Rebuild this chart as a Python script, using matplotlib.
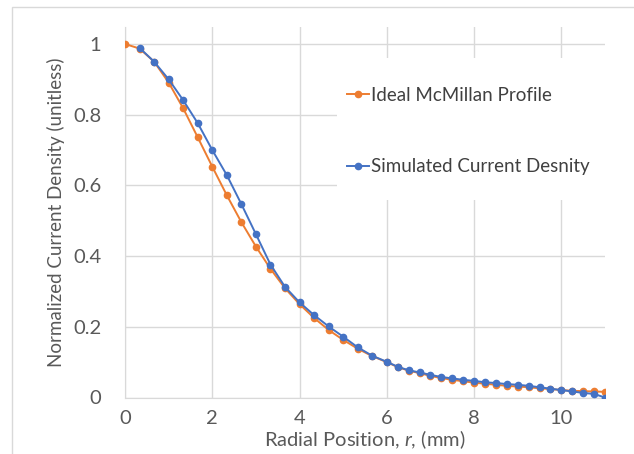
import matplotlib
matplotlib.use("Agg")
import matplotlib.pyplot as plt
from matplotlib.patches import Rectangle

# radial positions (mm)
r_ideal = [0, 1/3, 2/3, 1, 4/3, 5/3, 2, 7/3, 8/3, 3, 10/3, 11/3, 4, 13/3, 14/3, 5, 16/3, 17/3, 6,
           6.25, 6.5, 6.75, 7, 7.25, 7.5, 7.75, 8, 8.25, 8.5, 8.75, 9, 9.25, 9.5, 9.75,
           10, 10.25, 10.5, 10.75, 11]
j_ideal = [1.0, 0.987, 0.950, 0.891, 0.818, 0.736, 0.653, 0.572, 0.496, 0.427, 0.364, 0.309, 0.264,
           0.225, 0.191, 0.163, 0.138, 0.117, 0.100,
           0.086, 0.076, 0.069, 0.061, 0.055, 0.050, 0.046, 0.042, 0.039, 0.036, 0.033,
           0.031, 0.029, 0.026, 0.024, 0.021, 0.019, 0.018, 0.017, 0.016]

r_sim = r_ideal[1:]
j_sim = [0.989, 0.950, 0.900, 0.841, 0.776, 0.700, 0.629, 0.547, 0.462, 0.376, 0.313, 0.269,
         0.233, 0.201, 0.172, 0.142, 0.118, 0.101,
         0.087, 0.077, 0.071, 0.064, 0.058, 0.054, 0.050, 0.047, 0.043, 0.041, 0.038,
         0.036, 0.033, 0.029, 0.025, 0.021, 0.017, 0.013, 0.010, 0.0]

x_ticks = [0, 2, 4, 6, 8, 10]
y_ticks = [0, 0.2, 0.4, 0.6, 0.8, 1]
y_ticklabels = ["0", "0.2", "0.4", "0.6", "0.8", "1"]

plt.rcParams['font.family'] = ['Lato', 'DejaVu Sans']
plt.rcParams['mathtext.fontset'] = 'custom'
plt.rcParams['mathtext.rm'] = 'Lato'
plt.rcParams['mathtext.it'] = 'Lato:italic'

grid_col = "#d9d9d9"
text_col = "#595959"

fig = plt.figure(figsize=(6.34, 4.54), dpi=100)
# chart area border (runs off the right and bottom of the picture)
fig.patches.append(Rectangle((12/634, -0.1), 1.1, 1.1 - 7/454, transform=fig.transFigure,
                             fill=False, edgecolor=grid_col, linewidth=1.0))
ax = fig.add_axes([125/634, 1 - 397.5/454, 480/634, 370.5/454])

ax.plot(r_ideal, j_ideal, color="#ED7D31", marker="o", markersize=4.5, linewidth=1.4,
        label="Ideal McMillan Profile", zorder=3)
ax.plot(r_sim, j_sim, color="#4472C4", marker="o", markersize=4.5, linewidth=1.4,
        label="Simulated Current Desnity", zorder=4)

ax.set_xlim(0, 11)
ax.set_ylim(0, 1.048)
ax.set_xticks(x_ticks)
ax.set_yticks(y_ticks)
ax.set_yticklabels(y_ticklabels)
ax.grid(True, color=grid_col, linewidth=1.0)
ax.set_axisbelow(True)
for s in ["top", "right"]:
    ax.spines[s].set_visible(False)
for s in ["left", "bottom"]:
    ax.spines[s].set_color(grid_col)
ax.tick_params(length=0, labelsize=14.5, labelcolor=text_col)
ax.tick_params(axis="x", pad=9)
ax.tick_params(axis="y", pad=17)

ax.set_xlabel("Radial Position, $\\it{r}$, (mm)", fontsize=14.5, color=text_col, va="top")
ax.xaxis.set_label_coords(0.5, -0.084)
ax.set_ylabel("Normalized Current Density (unitless)", fontsize=13.5, color=text_col, labelpad=6)

# white legend background covering the grid
ax.add_patch(Rectangle((0.442, 0.533), 0.558, 0.383, transform=ax.transAxes,
                       facecolor="white", edgecolor="none", zorder=2))
leg = ax.legend(loc="upper left", bbox_to_anchor=(0.462, 0.839), fontsize=13.5,
                frameon=False, handlelength=1.2, handletextpad=0.08, labelspacing=2.92,
                borderpad=0, borderaxespad=0)
for t in leg.get_texts():
    t.set_color("#404040")

fig.savefig("out.png", dpi=100)
